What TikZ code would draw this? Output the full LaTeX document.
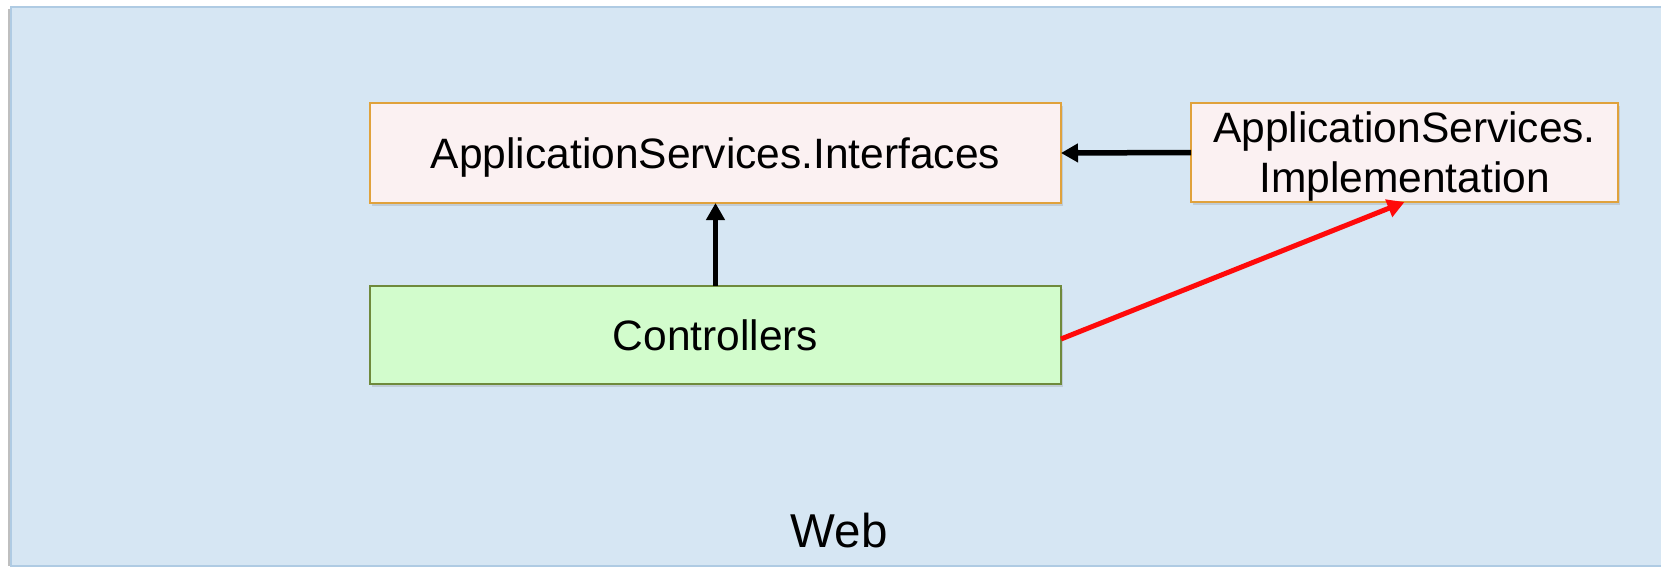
\documentclass[tikz,border=0pt]{standalone}
\usepackage{fontspec}
\setmainfont{Liberation Sans}
\usetikzlibrary{arrows.meta,shadows}
\definecolor{webfill}{HTML}{D6E6F3}
\definecolor{webdraw}{HTML}{AFCBE3}
\definecolor{ifill}{HTML}{FBF1F2}
\definecolor{idraw}{HTML}{E0A23C}
\definecolor{cfill}{HTML}{D2FCCC}
\definecolor{cdraw}{HTML}{6F8A3C}
\definecolor{redline}{HTML}{FF0A0A}
\begin{document}
\begin{tikzpicture}[x=1pt,y=-1pt,
  every node/.style={inner sep=0pt, outer sep=0pt, font=\fontsize{42.5}{50}\selectfont},
  boxshadow/.style={drop shadow={opacity=0.25, shadow xshift=2pt, shadow yshift=-3pt}},
  ibox/.style={rectangle, draw=idraw, fill=ifill, line width=2pt, boxshadow, align=center, text depth=0pt},
  cbox/.style={rectangle, draw=cdraw, fill=cfill, line width=2pt, boxshadow, align=center, text depth=0pt},
  dep/.style={draw=black, line width=5.5pt, -{Triangle[length=17pt,width=18pt]}},
  reddep/.style={draw=redline, line width=5pt, -{Triangle[length=17pt,width=18pt]}}
]
\useasboundingbox (0,0) rectangle (1661,568);
\fill[white] (0,0) rectangle (1661,568);
\fill[black!25] (8,9) rectangle (14,566);
\node[rectangle, draw=webdraw, fill=webfill, line width=2.5pt, minimum width=1670pt, minimum height=559pt, anchor=north west] (web) at (11,7) {};
\node[font=\fontsize{47.5}{55}\selectfont, anchor=base] (weblabel) at (839,547) {Web};
\node[ibox, minimum width=691pt, minimum height=100pt] (intf) at (715.5,153) {ApplicationServices.Interfaces};
\node[cbox, minimum width=691pt, minimum height=98pt] (ctrl) at (715.5,335) {Controllers};
\node[ibox, minimum width=427pt, minimum height=99pt] (impl) at (1404.5,152.5) {ApplicationServices.\\Implementation};
\draw[dep] (ctrl.north) -- (intf.south);
\draw[dep] (impl.west) -- (intf.east);
\draw[reddep] ([yshift=-4pt]ctrl.east) -- (impl.south);
\end{tikzpicture}
\end{document}
